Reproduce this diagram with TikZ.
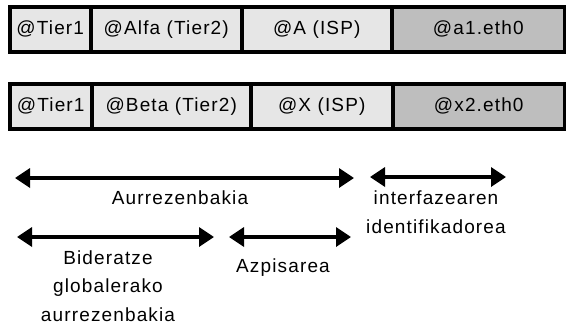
\documentclass[tikz,border=0pt]{standalone}
\usepackage{fontspec}
\setmainfont{Liberation Sans}[LetterSpace=6]
\usetikzlibrary{arrows.meta}
\definecolor{lightseg}{HTML}{E6E6E6}
\definecolor{darkseg}{HTML}{BEBEBE}
\begin{document}
\begin{tikzpicture}[x=1pt,y=-1pt,
  seg/.style={draw=black,line width=3.5pt,fill=lightseg,minimum height=45pt,inner sep=0pt,anchor=north west,font=\fontsize{19}{20}\selectfont},
  segdark/.style={seg,fill=darkseg},
  lbl/.style={align=center,font=\fontsize{19}{28.5}\selectfont,inner sep=0pt},
  span/.style={line width=3.5pt,{Triangle[length=15pt,width=19pt]}-{Triangle[length=15pt,width=19pt]}}]
\useasboundingbox (0,0) rectangle (566,327);
% row 1
\node[seg,minimum width=81pt] (t1) at (8,5) {@Tier1};
\node[seg,minimum width=151pt] (alfa) at (89,5) {@Alfa (Tier2)};
\node[seg,minimum width=150pt] (a) at (240,5) {@A (ISP)};
\node[segdark,minimum width=173pt] (a1) at (390,5) {@a1.eth0};
% row 2
\node[seg,minimum width=82pt] (t2) at (8,82) {@Tier1};
\node[seg,minimum width=159pt] (beta) at (90,82) {@Beta (Tier2)};
\node[seg,minimum width=142pt] (x) at (249,82) {@X (ISP)};
\node[segdark,minimum width=172pt] (x2) at (391,82) {@x2.eth0};
% arrows
\coordinate (p1a) at (15,178);
\coordinate (p1b) at (354,178);
\coordinate (p2a) at (370,177);
\coordinate (p2b) at (506,177);
\coordinate (p3a) at (17,237);
\coordinate (p3b) at (214,237);
\coordinate (p4a) at (229,237);
\coordinate (p4b) at (351,237);
\draw[span] (p1a) -- (p1b);
\draw[span] (p2a) -- (p2b);
\draw[span] (p3a) -- (p3b);
\draw[span] (p4a) -- (p4b);
% labels
\node[lbl] (l1) at (180,198) {Aurrezenbakia};
\node[lbl] (l2) at (436,212) {interfazearen\\identifikadorea};
\node[lbl] (l3) at (108,286) {Bideratze\\globalerako\\aurrezenbakia};
\node[lbl] (l4) at (283,268) {Azpisarea};
\end{tikzpicture}
\end{document}
